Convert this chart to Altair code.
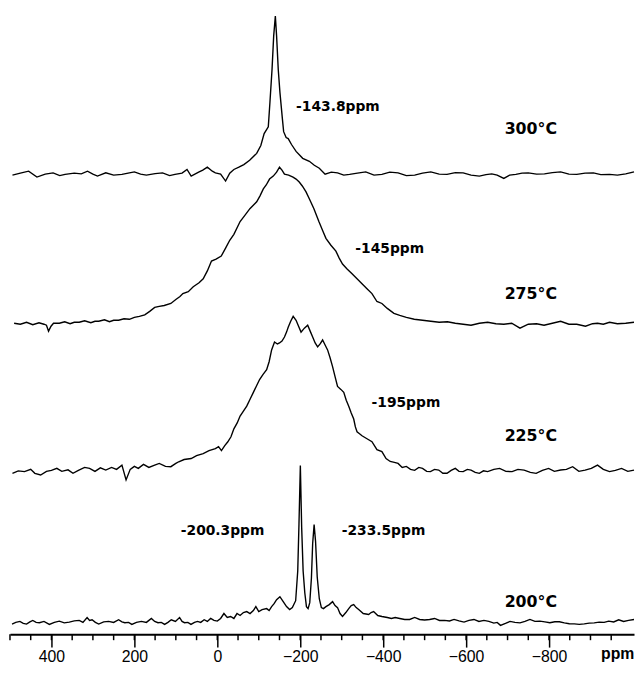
import altair as alt
import pandas as pd

# ---- spectra: chemical shift (ppm) and intensity (a.u.) ----
ppm_300 = [494, 475, 455, 435, 415, 396, 380, 367, 345, 328, 313, 300, 289, 269, 250, 230, 215, 200, 185, 171,
           150, 132, 115, 102, 85, 73, 63, 45, 35, 24, 12, 4.6, -8, -20, -30, -40, -52, -64, -78, -95,
           -105, -113, -123, -127, -132, -136, -140, -143, -147, -151, -157, -160, -166, -171, -179, -190, -206, -222, -234, -246,
           -260, -275, -290, -305, -319, -338, -358, -378, -397, -416, -436, -456, -476, -495, -515, -535, -554, -574, -593, -612,
           -632, -648, -662, -675, -691, -705, -720, -735, -750, -770, -789, -808, -828, -848, -867, -887, -907, -925, -946, -965,
           -985, -1005]
int_300 = [0, 2, 4, -2, 1, 2.3, -0.5, 0.7, 2, 1.3, 4, 1, -1, 2.3, 0, 0.7, 2, 3.3, 1, 0,
           1.5, 2.3, -0.5, 0.7, 2, 5.7, -1, 3, 5, 8, 4, 2.3, 1, -6, 2, 5.7, 8, 10.7, 15, 22,
           30, 42, 49, 74, 107, 141, 161, 141, 107, 84, 57, 44, 38, 37, 31, 24, 17, 14, 10, 7,
           1, 3, 2.3, 0, 0.7, 2, 3.3, 0, 0.7, 3, 2.3, -0.5, 0, 2, 3.3, 1, 0.7, 2.5, 2.3, 0,
           -1, 0.5, 1.3, 0, -3.3, 0, 0.7, 2, 2.3, 1, 1.3, 2.5, 3.3, 1, 0.7, 2, 2.3, 0.5, 0.7, 0,
           1.3, 3.3]

ppm_275 = [490, 475, 460, 445, 430, 418, 412, 407, 401, 395, 381, 368, 355, 345, 333, 320, 305, 295, 286, 272,
           260, 250, 238, 225, 212, 200, 188, 175, 163, 151, 140, 128, 112, 100, 90, 83, 70, 58, 44, 34,
           24, 14, 3, -9.5, -20, -30, -40, -55, -66, -78.6, -88, -95, -103, -111, -118, -126, -135, -143, -150, -156,
           -162, -172, -182.6, -190, -197.6, -205, -214, -223, -233, -245, -254, -262, -274, -286, -294, -302, -313, -325, -337, -349,
           -361, -373, -385, -397, -410, -426, -440, -456, -475, -495, -515, -535, -555, -574, -593, -612, -632, -652, -672, -691,
           -710, -730, -750, -770, -788, -808, -828, -848, -867, -888, -905, -917, -931, -946, -965, -985, -1005]
int_275 = [1, 0, 2, -0.5, 1.5, 0, -1, -7, -2, 1, 1, 2.5, 0.5, 2, 2, 3.5, 1.5, 3, 3, 4.5,
           2.5, 4, 4, 5.5, 5, 7, 8, 9.5, 13, 17, 18, 19, 21, 25, 28, 31, 33, 38, 42, 46,
           54, 64, 66, 69, 77, 85, 91, 104, 110, 117, 121, 124, 130, 137, 141, 147, 150, 154, 159, 156,
           152, 151, 149, 147, 144, 140, 134, 126, 117, 104, 95, 87, 80, 74, 67, 61, 56, 51, 46, 41,
           36, 31, 23, 21, 16, 11, 9, 7, 5, 4, 3, 2, 2.5, 1, 0, -1, 1, 2, 0.5, 0,
           1, -4, 0, 0.5, -1, 1, 3, 0, 0, -2, 0.5, 1, 0, 2, 0.5, 1, 2]

ppm_225 = [494, 480, 465, 450, 440, 426, 412, 400, 387, 375, 360, 348, 335, 320, 308, 295, 282, 269, 255, 243,
           230, 220, 210, 200, 190.5, 178, 165, 151, 140, 125, 112, 100, 93, 80, 63, 50, 34, 20, 4.6, -3,
           -10, -18, -25, -33, -40, -48, -55, -63, -71, -79, -87, -95, -102, -110, -119, -125, -131, -138, -145, -150,
           -156, -162, -167, -171, -177, -183, -190, -196, -202, -210, -218, -224, -230, -236, -242, -248, -254, -260, -266, -272,
           -278, -284, -290, -298, -305, -311, -317, -323, -329, -333, -337, -343, -349, -361, -373, -385, -397, -407, -417, -427,
           -436, -446, -456, -466, -476, -486, -495, -505, -514, -524, -534, -544, -554, -564, -574, -583, -593, -603, -612, -622,
           -632, -642, -652, -667, -681, -696, -711, -725, -740, -755, -769, -784, -799, -813, -828, -842, -857, -872, -887, -902,
           -917, -931, -946, -960, -975, -990, -1005]
int_225 = [-1, 1.5, 0.7, 3, -1, -2.7, 1, 2, 4, 1, 2.5, -1, 2, 5, 4, 1, 4.5, 2.3, 5, 3,
           7.3, -7.7, 3, 6, 4, 8, 5, 7.3, 9, 6, 5.7, 9, 10.7, 13, 14, 17, 19, 22, 24, 26,
           22, 27, 30.7, 36, 44, 50, 57, 62, 67, 74, 81, 88, 94, 99, 104, 112, 124, 132, 130, 131,
           133, 137, 142, 147, 153, 158, 154, 148, 142, 146, 149, 143, 137, 131, 127, 130, 134, 129, 124, 116,
           107, 97, 87, 84, 81, 73, 67, 60, 54, 46, 41, 39, 37, 34, 31, 23, 21, 14, 11, 10,
           9, 5, 6, 3, 2, 5, 4, 1, 0.7, 3, 2.3, -1, -1, 2, 4, 1, 0.7, 3, 2.3, 0,
           -1, 1.5, 0.7, 3, 4, 1, 0.7, 3, 2.3, 0, -1, 2, 4, 1, 2.3, 3, 5.7, 1, 2.3, 4,
           7.3, 3, 0.7, 2, 4, 1, 2.3]

ppm_200 = [495, 486, 476, 468, 460, 452, 445, 437, 429, 418, 405, 393, 381, 369, 357, 345, 333, 324, 314, 308,
           302, 294, 286, 274, 262, 250, 238, 230, 223, 214, 206, 195, 183, 171, 159, 151, 143, 135, 127, 119,
           111, 101, 91, 85, 79, 71, 63.5, 55, 47.6, 40, 31.7, 24, 16, 8, 0, -8, -16, -24, -32, -40,
           -47.6, -55, -63, -71, -79, -87, -93, -100, -108, -119, -125, -131, -137, -143, -151, -159, -167, -174.5, -181, -189,
           -194, -197, -200.3, -203.5, -207, -211, -215, -219, -223, -227, -230, -233.5, -237, -241, -246, -251, -256, -262, -270, -278,
           -284, -290, -296, -302, -310, -317, -323, -329, -335, -341, -352, -365, -371, -377, -387, -397, -410, -420, -429, -440,
           -452, -464, -476, -488, -500, -512, -524, -536, -548, -560, -571, -583, -595, -607, -619, -631, -643, -655, -667, -675,
           -683, -695, -706, -718, -730, -742, -754, -766, -778, -790, -802, -814, -825, -837, -849, -861, -873, -885, -897, -909,
           -921, -933, -944, -956, -968, -980, -992, -1005]
int_200 = [-1.7, 0, 1, -1, -1.7, 0.5, 2, 0, -0.3, 1, -2, 0, 1.3, -0.5, 0.3, 1.5, 2, 0, 5, 2,
           2.7, 0, -1.7, 0.5, 1, 0, 2.7, 0.5, -0.3, 0, -2, 0, 1, 0, 4, 1, -0.3, 0, -2, 0,
           2.7, 1, 5, 1, -0.3, 0, -2, 0, 1, 0, 2.7, 1, 4, 2, 1.3, 4, 9, 5, 6, 4,
           9, 7, 10, 11, 9, 12, 16, 11, 13, 14, 12, 16, 19, 23, 26, 21, 16, 13, 15, 22,
           52, 100, 159, 96, 52, 30, 16, 14, 20, 45, 80, 99, 82, 46, 24, 15, 14, 16, 18, 21,
           17, 15, 9, 6, 10, 14, 17, 18, 15, 13, 9, 8, 10, 11, 7, 6, 5, 4, 5, 4,
           3, 3, 5, 3, 2.5, 3, 4, 2, 2, 1.5, 3, 1.5, 0.3, 2, 3, 1, 2, 1, -0.7, 0,
           -3, -1, 1, 0, -0.5, 1, 3, 1, 1.3, 0.5, -0.3, 0.7, 0.7, -0.5, -1.3, -1.5, -2, -1.5, -0.7, -0.5,
           0.3, 0, 1.3, 0.5, 2.7, 1, 2, 3]

series_names = ["300°C", "275°C", "225°C", "200°C"]
series_ppm = [ppm_300, ppm_275, ppm_225, ppm_200]
series_int = [int_300, int_275, int_225, int_200]
stack_offset = [465, 314, 164, 12]   # vertical offset of each trace in the stack (a.u.)

# ---- annotations ----
shift_labels = ["-143.8ppm", "-145ppm", "-195ppm", "-200.3ppm", "-233.5ppm"]
shift_label_ppm = [-190, -333, -372, 88, -300]
shift_label_y = [530, 386, 230, 101, 101]

temp_label_ppm = [-693, -693, -693, -693]
temp_label_y = [507, 340, 196, 28]

major_ticks = [400, 200, 0, -200, -400, -600, -800]
minor_ticks = list(range(500, -1000, -50))

rows = []
for name, xs, ys, off in zip(series_names, series_ppm, series_int, stack_offset):
    for p, v in zip(xs, ys):
        rows.append({"series": name, "ppm": p, "y": off + v})
spec = pd.DataFrame(rows)

shift_df = pd.DataFrame({"text": shift_labels, "ppm": shift_label_ppm, "y": shift_label_y})
temp_df = pd.DataFrame({"text": series_names, "ppm": temp_label_ppm, "y": temp_label_y})
minor_df = pd.DataFrame({"ppm": minor_ticks})

xscale = alt.Scale(domain=[-1005, 500], reverse=True, nice=False, zero=False)
yscale = alt.Scale(domain=[0, 630], nice=False, zero=False)

lines = alt.Chart(spec).mark_line(color="black", strokeWidth=1.4).encode(
    x=alt.X("ppm:Q", scale=xscale, axis=alt.Axis(
        values=major_ticks, tickSize=13, tickWidth=1.5, tickColor="black",
        domainColor="black", domainWidth=2, labelFont="Liberation Sans", labelFontSize=16,
        labelColor="black", labelPadding=2, grid=False, labelFlush=False,
        title="ppm", titleFont="Liberation Sans", titleFontSize=16, titleFontWeight="bold",
        titleColor="black", titleX=615, titleY=25, titleAlign="center", titleBaseline="alphabetic")),
    y=alt.Y("y:Q", scale=yscale, axis=None),
    detail="series:N",
)

minor = alt.Chart(minor_df).mark_rule(color="black", strokeWidth=1.5).encode(
    x=alt.X("ppm:Q", scale=xscale),
    y=alt.value(630), y2=alt.value(636),
)

shift_text = alt.Chart(shift_df).mark_text(
    font="DejaVu Sans", fontSize=14, fontWeight="bold", align="left", baseline="alphabetic", color="black"
).encode(x=alt.X("ppm:Q", scale=xscale), y=alt.Y("y:Q", scale=yscale), text="text:N")

temp_text = alt.Chart(temp_df).mark_text(
    font="DejaVu Sans", fontSize=16, fontWeight="bold", align="left", baseline="alphabetic", color="black"
).encode(x=alt.X("ppm:Q", scale=xscale), y=alt.Y("y:Q", scale=yscale), text="text:N")

chart = alt.layer(lines, minor, shift_text, temp_text).properties(
    width=632, height=630,
    autosize=alt.AutoSizeParams(type="none"),
    padding={"left": 2, "top": 0, "right": 1, "bottom": 36},
).configure_view(strokeWidth=0)

chart.save("out.html", embed_options={"renderer": "svg", "actions": False})
